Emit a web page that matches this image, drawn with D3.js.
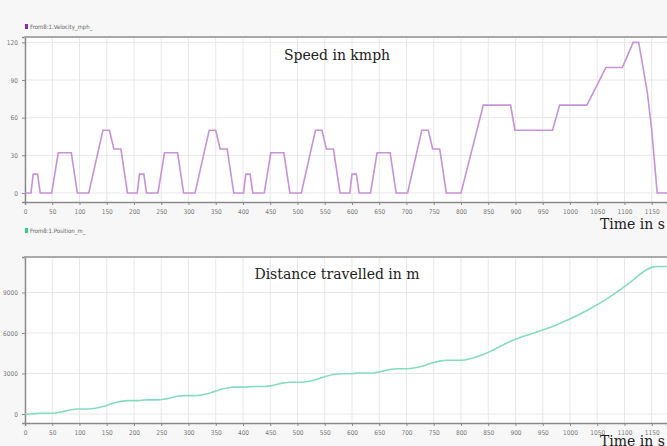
<!DOCTYPE html>
<html><head><meta charset="utf-8">
<script src="https://cdn.jsdelivr.net/npm/d3@7"></script>
<style>body{margin:0;background:#f7f7f7}svg{display:block}</style>
</head><body>
<svg id="c" width="667" height="446"></svg>
<script>
// Time breakpoints (s) and speed (km/h) (4 urban cycles + extra-urban part)
const speedTime = [
  0,11,15,23,28,49,61,85,96,117,143,155,163,176,188,
  195,206,210,218,223,244,256,280,291,312,338,350,358,371,383,
  390,401,405,413,418,439,451,475,486,507,533,545,553,566,578,
  585,596,600,608,613,634,646,670,681,702,728,740,748,761,773,
  780,800,841,891,899,968,981,1031,1066,1096,1116,1126,1142,1150,1160,1180
];
const speedValue = [
  0,0,15,15,0,0,32,32,0,0,50,50,35,35,0,
  0,0,15,15,0,0,32,32,0,0,50,50,35,35,0,
  0,0,15,15,0,0,32,32,0,0,50,50,35,35,0,
  0,0,15,15,0,0,32,32,0,0,50,50,35,35,0,
  0,0,70,70,50,50,70,70,100,100,120,120,80,50,0,0
];
// Distance travelled (m) at the same breakpoints
const positionValue = [
  0,0,8,42,52,52,105,319,368,368,548,715,809,936,994,
  994,994,1002,1036,1046,1046,1099,1313,1362,1362,1542,1709,1803,1930,1988,
  1988,1988,1996,2030,2040,2040,2093,2307,2356,2356,2536,2703,2797,2924,2982,
  2982,2982,2990,3024,3034,3034,3087,3301,3350,3350,3530,3697,3791,3918,3976,
  3976,3976,4416,5388,5521,6479,6696,7668,8495,9328,9939,10272,10717,10861,10930,10930
];
const xTicks = [0,50,100,150,200,250,300,350,400,450,500,550,600,650,700,750,800,850,900,950,1000,1050,1100,1150];
const speedTicks = [0,30,60,90,120];
const positionTicks = [0,3000,6000,9000];
const speedLegend = "From8:1.Velocity_mph_";
const positionLegend = "From8:1.Position_m_";
const speedTitle = "Speed in kmph";
const positionTitle = "Distance travelled in m";
const xTitle = "Time in s";

const svg = d3.select("#c");
const W = 667, L = 25;
const x = d3.scaleLinear().domain([0,1178]).range([L, W]);
const tickFont = "'Liberation Sans Narrow','DejaVu Sans Condensed',sans-serif";
const serif = "'DejaVu Serif','Liberation Serif',serif";

svg.append("rect").attr("width",W).attr("height",446).attr("fill","#f7f7f7");

function panel(cfg){
  const g = svg.append("g");
  const y = d3.scaleLinear().domain(cfg.yDomain).range([cfg.bottom, cfg.top]);
  const clipId = "clip"+cfg.id;
  svg.append("clipPath").attr("id",clipId).append("rect")
    .attr("x",L).attr("y",cfg.top).attr("width",W-L).attr("height",cfg.bottom-cfg.top);
  g.append("rect").attr("x",L).attr("y",cfg.top).attr("width",W-L).attr("height",cfg.bottom-cfg.top).attr("fill","#fff");
  // grid
  g.append("g").selectAll("line").data(xTicks).join("line")
    .attr("x1",d=>x(d)).attr("x2",d=>x(d)).attr("y1",cfg.top).attr("y2",cfg.bottom)
    .attr("stroke","#e8e8e8").attr("stroke-width",1);
  g.append("g").selectAll("line").data(cfg.yTicks).join("line")
    .attr("x1",L).attr("x2",W).attr("y1",d=>y(d)).attr("y2",d=>y(d))
    .attr("stroke","#e8e8e8").attr("stroke-width",1);
  // axes
  const xa = g.append("g").attr("transform",`translate(0,${cfg.bottom})`)
    .call(d3.axisBottom(x).tickValues(xTicks).tickSize(3).tickFormat(d3.format("d")));
  const ya = g.append("g").attr("transform",`translate(${L},0)`)
    .call(d3.axisLeft(y).tickValues(cfg.yTicks).tickSize(3).tickFormat(d3.format("d")));
  [xa,ya].forEach(a=>{
    a.select(".domain").attr("stroke","#8a8a8a").attr("stroke-width",1.5);
    a.selectAll(".tick line").attr("stroke","#8a8a8a");
    a.selectAll("text").attr("fill","#777").attr("font-size",6.5).attr("font-family",tickFont);
  });
  xa.selectAll("text").attr("dy","0.9em");
  ya.selectAll("text").attr("dx","-1");
  // top frame
  g.append("line").attr("x1",L-1).attr("x2",W).attr("y1",cfg.top).attr("y2",cfg.top)
    .attr("stroke","#a9a9a9").attr("stroke-width",2);
  // line
  g.append("path").datum(speedTime.map((t,i)=>[t,cfg.values[i]]))
    .attr("clip-path",`url(#${clipId})`)
    .attr("fill","none").attr("stroke",cfg.color).attr("stroke-width",1.6)
    .attr("d",d3.line().x(d=>x(d[0])).y(d=>y(d[1])).curve(cfg.curve));
  // legend
  g.append("rect").attr("x",25).attr("y",cfg.legendY-5).attr("width",3).attr("height",5).attr("fill",cfg.legendColor);
  g.append("text").attr("x",30).attr("y",cfg.legendY).attr("font-size",6).attr("fill","#666")
    .attr("font-family",tickFont).text(cfg.legend);
  // titles
  g.append("text").attr("x",cfg.titleX).attr("y",cfg.titleY).attr("text-anchor","middle")
    .attr("font-family",serif).attr("font-size",14).attr("fill","#222").text(cfg.title);
  g.append("text").attr("x",600).attr("y",cfg.xTitleY)
    .attr("font-family",serif).attr("font-size",14).attr("fill","#222").text(xTitle);
}

panel({id:1, top:37, bottom:202, yDomain:[-7.2,124.3], yTicks:speedTicks, values:speedValue,
  color:"#c792d8", legendColor:"#8e2aa8", legend:speedLegend, legendY:29, curve:d3.curveLinear,
  title:speedTitle, titleX:337, titleY:60, xTitleY:229});
panel({id:2, top:257, bottom:423, yDomain:[-667,11630], yTicks:positionTicks, values:positionValue,
  color:"#86dcc3", legendColor:"#2fcf8a", legend:positionLegend, legendY:233, curve:d3.curveMonotoneX,
  title:positionTitle, titleX:337, titleY:279, xTitleY:446});
</script>
</body></html>
